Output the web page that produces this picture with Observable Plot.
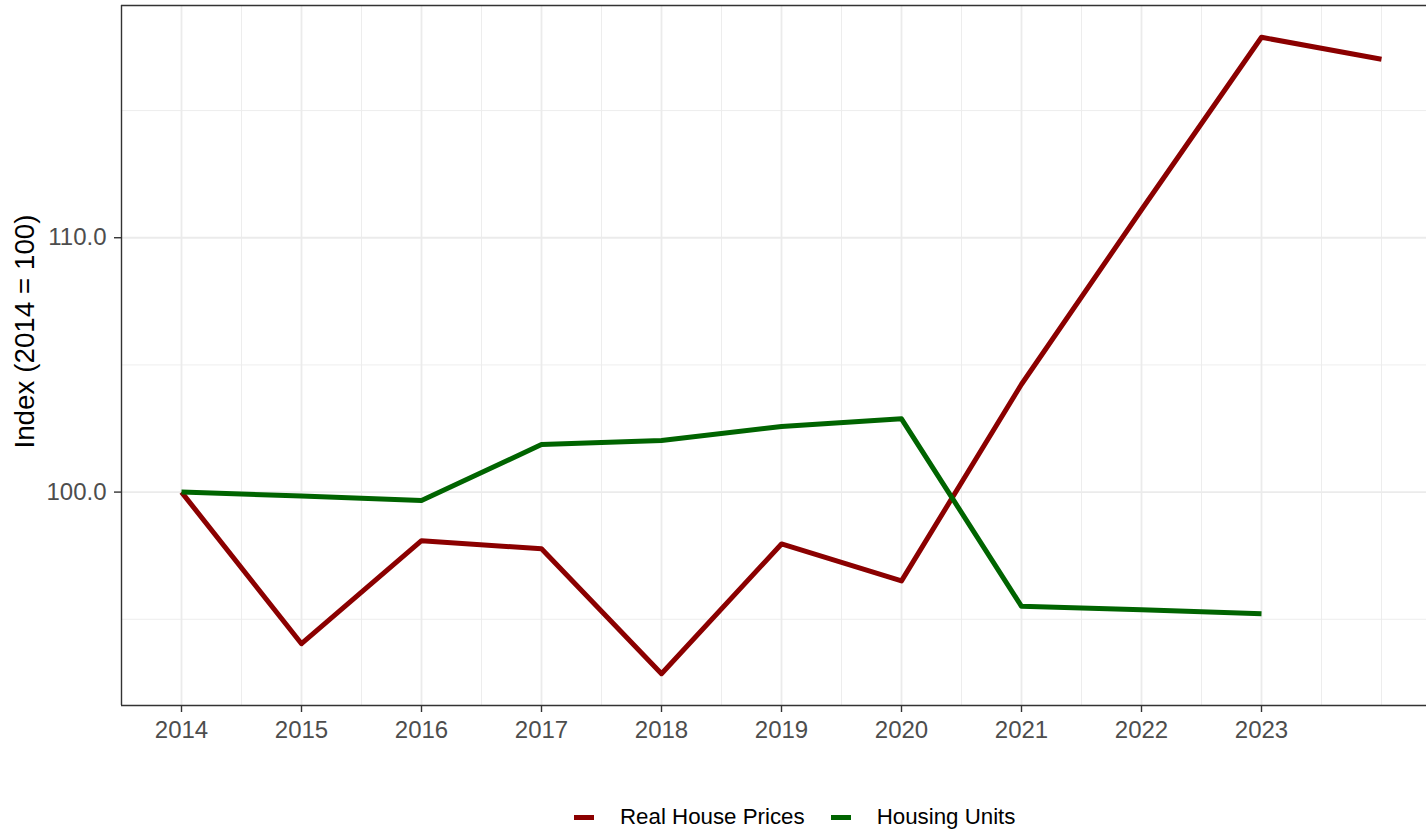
<!DOCTYPE html>
<html>
<head>
<meta charset="utf-8">
<script src="https://cdn.jsdelivr.net/npm/d3@7"></script>
<script src="https://cdn.jsdelivr.net/npm/@observablehq/plot@0.6"></script>
<style>
  html, body { margin: 0; padding: 0; background: #fff; }
  body { width: 1426px; height: 829px; position: relative; overflow: hidden; font-family: "Liberation Sans", Arial, Helvetica, sans-serif; }
  #chart { position: absolute; left: 0; top: 0; }
  #legend { position: absolute; left: 574px; top: 802px; height: 30px; display: flex; align-items: center; font-size: 22.3px; color: #000; white-space: nowrap; }
  .key { width: 20px; height: 5px; margin-right: 26px; }
  .lab { margin-right: 26px; }
</style>
</head>
<body>
<div id="chart"></div>
<div id="legend"></div>
<script>
// Data
const years = [2014, 2015, 2016, 2017, 2018, 2019, 2020, 2021, 2022, 2023, 2024];
const realHousePrices = [100, 94.04, 98.09, 97.77, 92.86, 97.96, 96.51, 104.24, 111.1, 117.88, 117.02];
const unitYears = [2014, 2015, 2016, 2017, 2018, 2019, 2020, 2021, 2022, 2023];
const housingUnits = [100, 99.85, 99.67, 101.87, 102.03, 102.58, 102.88, 95.51, 95.37, 95.22];
const seriesNames = ["Real House Prices", "Housing Units"];
const seriesColors = ["#8B0000", "#006400"];
const xTicks = [2014, 2015, 2016, 2017, 2018, 2019, 2020, 2021, 2022, 2023];
const yTicks = [100, 110];
const yMinor = [95, 105, 115];
const yLabel = "Index (2014 = 100)";

const rows = [
  ...years.map((y, i) => ({year: y, value: realHousePrices[i], series: seriesNames[0]})),
  ...unitYears.map((y, i) => ({year: y, value: housingUnits[i], series: seriesNames[1]}))
];

const xDomain = [2013.5, 2024.375];
const yDomain = [91.61, 119.13];
const xMinor = d3.range(2013.5, 2024.4, 0.5).filter(v => !xTicks.includes(v));

const grid = "#EBEBEB";
const border = "#333333";

const chart = Plot.plot({
  width: 1426,
  height: 760,
  marginLeft: 121,
  marginRight: 0,
  marginTop: 5,
  marginBottom: 55,
  style: {fontFamily: '"Liberation Sans", Arial, Helvetica, sans-serif', background: "#fff"},
  x: {domain: xDomain, range: [121, 1426]},
  y: {domain: yDomain},
  color: {domain: seriesNames, range: seriesColors},
  marks: [
    Plot.ruleX(xMinor, {stroke: grid, strokeWidth: 0.9}),
    Plot.ruleY(yMinor, {stroke: grid, strokeWidth: 0.9}),
    Plot.ruleX(xTicks, {stroke: grid, strokeWidth: 1.8}),
    Plot.ruleY(yTicks, {stroke: grid, strokeWidth: 1.8}),
    Plot.line(rows, {x: "year", y: "value", z: "series", stroke: "series", strokeWidth: 5, strokeLinecap: "butt", strokeLinejoin: "round"}),
    Plot.ruleX([xDomain[0]], {stroke: border, strokeWidth: 1.4}),
    Plot.ruleY([yDomain[0], yDomain[1]], {stroke: border, strokeWidth: 1.4}),
    Plot.axisX({ticks: xTicks, tickFormat: "d", tickSize: 7, tickPadding: 8, fontSize: 24, stroke: border, strokeWidth: 1.4, fill: "#4D4D4D", label: null}),
    Plot.axisY({ticks: yTicks, tickFormat: ".1f", tickSize: 7, tickPadding: 8, fontSize: 24, stroke: border, strokeWidth: 1.4, fill: "#4D4D4D", label: null}),
    Plot.text([yLabel], {frameAnchor: "left", textAnchor: "middle", rotate: -90, dx: -96, dy: -24, fontSize: 27.8, fill: "#000", text: d => d})
  ]
});
chart.querySelectorAll("g[aria-label='x-axis tick label'] text, g[aria-label='y-axis tick label'] text").forEach(t => t.setAttribute("fill", "#4D4D4D"));
document.getElementById("chart").appendChild(chart);

const legend = document.getElementById("legend");
seriesNames.forEach((name, i) => {
  const k = document.createElement("div");
  k.className = "key";
  k.style.background = seriesColors[i];
  const l = document.createElement("span");
  l.className = "lab";
  l.textContent = name;
  legend.appendChild(k);
  legend.appendChild(l);
});
</script>
</body>
</html>
